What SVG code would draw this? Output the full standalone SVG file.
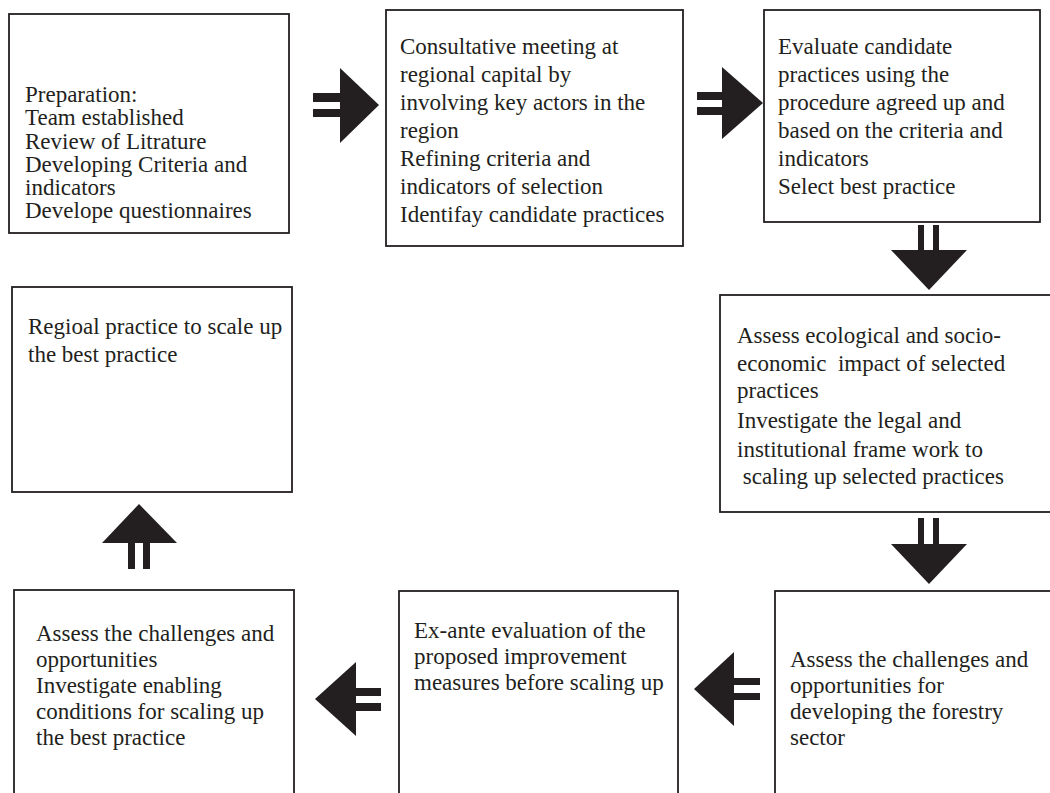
<svg xmlns="http://www.w3.org/2000/svg" width="1050" height="793" viewBox="0 0 1050 793">
<style>
.box{fill:#fff;stroke:#231f20;stroke-width:1.8}
.t{font-family:"Liberation Serif","Times New Roman",serif;font-size:23px;fill:#231f20}
.ar{fill:#231f20}
</style>
<rect width="1050" height="793" fill="#fff"/>
<g id="n1"><rect class="box" x="9" y="14" width="280" height="219"/>
<text class="t" x="25" y="102">Preparation:</text>
<text class="t" x="25" y="125">Team established</text>
<text class="t" x="25" y="149">Review of Litrature</text>
<text class="t" x="25" y="172">Developing Criteria and</text>
<text class="t" x="25" y="195">indicators</text>
<text class="t" x="25" y="218">Develope questionnaires</text></g>
<g id="n2"><rect class="box" x="386" y="10" width="297" height="236"/>
<text class="t" x="400" y="54">Consultative meeting at</text>
<text class="t" x="400" y="82">regional capital by</text>
<text class="t" x="400" y="110">involving key actors in the</text>
<text class="t" x="400" y="138">region</text>
<text class="t" x="400" y="166">Refining criteria and</text>
<text class="t" x="400" y="194">indicators of selection</text>
<text class="t" x="400" y="222">Identifay candidate practices</text></g>
<g id="n3"><rect class="box" x="764" y="10" width="276" height="212"/>
<text class="t" x="778" y="54">Evaluate candidate</text>
<text class="t" x="778" y="82">practices using the</text>
<text class="t" x="778" y="110">procedure agreed up and</text>
<text class="t" x="778" y="138">based on the criteria and</text>
<text class="t" x="778" y="166">indicators</text>
<text class="t" x="778" y="194">Select best practice</text></g>
<g id="n4"><rect class="box" x="720" y="295" width="340" height="217"/>
<text class="t" x="737" y="343">Assess ecological and socio-</text>
<text class="t" x="737" y="371" xml:space="preserve">economic  impact of selected</text>
<text class="t" x="737" y="398">practices</text>
<text class="t" x="737" y="428">Investigate the legal and</text>
<text class="t" x="737" y="457">institutional frame work to</text>
<text class="t" x="737" y="484" xml:space="preserve"> scaling up selected practices</text></g>
<g id="n5"><rect class="box" x="12" y="287" width="280" height="205"/>
<text class="t" x="28" y="334">Regioal practice to scale up</text>
<text class="t" x="28" y="362">the best practice</text></g>
<g id="n6"><rect class="box" x="775" y="591" width="290" height="220"/>
<text class="t" x="790" y="667">Assess the challenges and</text>
<text class="t" x="790" y="693">opportunities for</text>
<text class="t" x="790" y="719">developing the forestry</text>
<text class="t" x="790" y="745">sector</text></g>
<g id="n7"><rect class="box" x="399" y="591" width="279" height="220"/>
<text class="t" x="414" y="638">Ex-ante evaluation of the</text>
<text class="t" x="414" y="664">proposed improvement</text>
<text class="t" x="414" y="690">measures before scaling up</text></g>
<g id="n8"><rect class="box" x="14" y="590" width="280" height="220"/>
<text class="t" x="36" y="641">Assess the challenges and</text>
<text class="t" x="36" y="667">opportunities</text>
<text class="t" x="36" y="693">Investigate enabling</text>
<text class="t" x="36" y="719">conditions for scaling up</text>
<text class="t" x="36" y="745">the best practice</text></g>
<g id="connectors" class="ar">
<rect x="313" y="93" width="27" height="9"/><rect x="313" y="109" width="27" height="8"/><polygon points="340,68 379,105 340,143"/>
<rect x="697" y="92" width="25" height="8"/><rect x="697" y="107" width="25" height="8"/><polygon points="722,67 763,103 722,139"/>
<rect x="918" y="225" width="6" height="25"/><rect x="933" y="225" width="6" height="25"/><polygon points="891,250 967,250 929,290"/>
<rect x="918" y="518" width="6" height="26"/><rect x="933" y="518" width="6" height="26"/><polygon points="891,544 967,544 929,584"/>
<rect x="734" y="678" width="26" height="7"/><rect x="734" y="693" width="26" height="7"/><polygon points="734,652 694,689 734,726"/>
<rect x="356" y="688" width="25" height="8"/><rect x="356" y="703" width="25" height="8"/><polygon points="356,662 315,699 356,736"/>
<rect x="128" y="543" width="7" height="26"/><rect x="143" y="543" width="7" height="26"/><polygon points="102,543 139,504 177,543"/>
</g>
</svg>
